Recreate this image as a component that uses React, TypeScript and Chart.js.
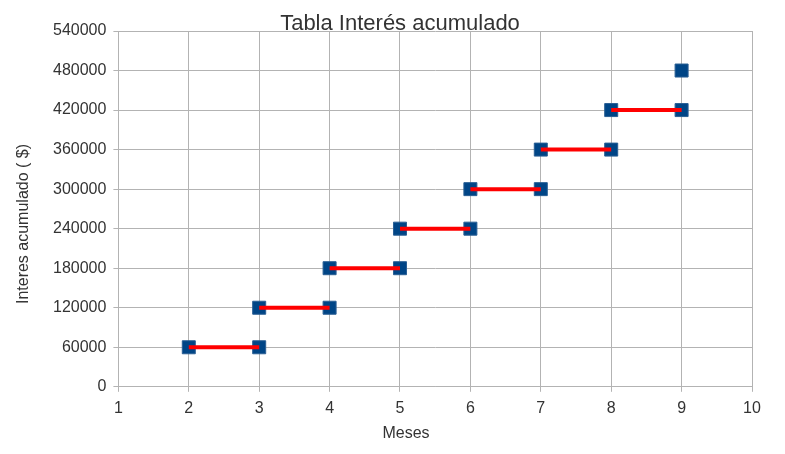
import React, { useEffect, useRef } from "react";
import { Chart, registerables } from "chart.js";

Chart.register(...registerables);

const pointsX = [2, 3, 3, 4, 4, 5, 5, 6, 6, 7, 7, 8, 8, 9, 9];
const pointsY = [60000, 60000, 120000, 120000, 180000, 180000, 240000, 240000, 300000, 300000, 360000, 360000, 420000, 420000, 480000];
// horizontal segments: [xStart, xEnd, y]
const segStartX = [2, 3, 4, 5, 6, 7, 8];
const segEndX = [3, 4, 5, 6, 7, 8, 9];
const segY = [60000, 120000, 180000, 240000, 300000, 360000, 420000];

const title = "Tabla Interés acumulado";
const xTitle = "Meses";
const yTitle = "Interes acumulado ( $)";

export default function App() {
  const ref = useRef<HTMLCanvasElement | null>(null);
  useEffect(() => {
    document.body.style.margin = "0";
    if (!ref.current) return;
    const lineData: any[] = [];
    segStartX.forEach((x, i) => {
      lineData.push({ x, y: segY[i] });
      lineData.push({ x: segEndX[i], y: segY[i] });
      if (i < segStartX.length - 1) lineData.push({ x: (segEndX[i] + segStartX[i + 1]) / 2 + 0.01, y: null });
    });
    const font = "'Liberation Sans', Arial, sans-serif";
    const titlesPlugin = {
      id: "pageTitles",
      afterDraw(c: any) {
        const ctx = c.ctx;
        ctx.save();
        ctx.fillStyle = "#333333";
        ctx.textAlign = "center";
        ctx.textBaseline = "middle";
        ctx.font = `22px ${font}`;
        ctx.fillText(title, 400, 24);
        ctx.font = `16px ${font}`;
        ctx.fillText(xTitle, 406, 434);
        ctx.translate(24, 224);
        ctx.rotate(-Math.PI / 2);
        ctx.fillText(yTitle, 0, 0);
        ctx.restore();
      },
    };
    const chart = new Chart(ref.current, {
      type: "scatter",
      data: {
        datasets: [
          {
            type: "line",
            data: lineData,
            borderColor: "#ff0000",
            borderWidth: 4,
            pointRadius: 0,
            spanGaps: false,
            fill: false,
          } as any,
          {
            data: pointsX.map((x, i) => ({ x, y: pointsY[i] })),
            backgroundColor: "#004586",
            borderColor: "#2a5f94",
            borderWidth: 1,
            pointStyle: "rect",
            pointRadius: 9.2,
            pointHoverRadius: 9.2,
          },
        ],
      },
      plugins: [titlesPlugin],
      options: {
        animation: false,
        responsive: false,
        layout: { padding: { left: 46, right: 33, top: 31, bottom: 29 } },
        plugins: {
          legend: { display: false },
          tooltip: { enabled: false },
          title: { display: false },
        },
        scales: {
          x: {
            type: "linear",
            min: 1,
            max: 10,
            ticks: { stepSize: 1, color: "#333333", font: { family: font, size: 16 }, padding: 7 },
            grid: { color: "#b3b3b3", tickLength: 5, lineWidth: 1 },
            border: { color: "#b3b3b3" },
          },
          y: {
            type: "linear",
            min: 0,
            max: 540000,
            ticks: {
              stepSize: 60000,
              color: "#333333",
              font: { family: font, size: 16 },
              padding: 7,
              callback: (v: any) => String(v),
            },
            grid: { color: "#b3b3b3", tickLength: 5, lineWidth: 1 },
            border: { color: "#b3b3b3" },
          },
        },
      },
    });
    return () => chart.destroy();
  }, []);
  return (
    <div style={{ width: 785, height: 454, background: "#fff" }}>
      <canvas ref={ref} width={785} height={454} />
    </div>
  );
}
